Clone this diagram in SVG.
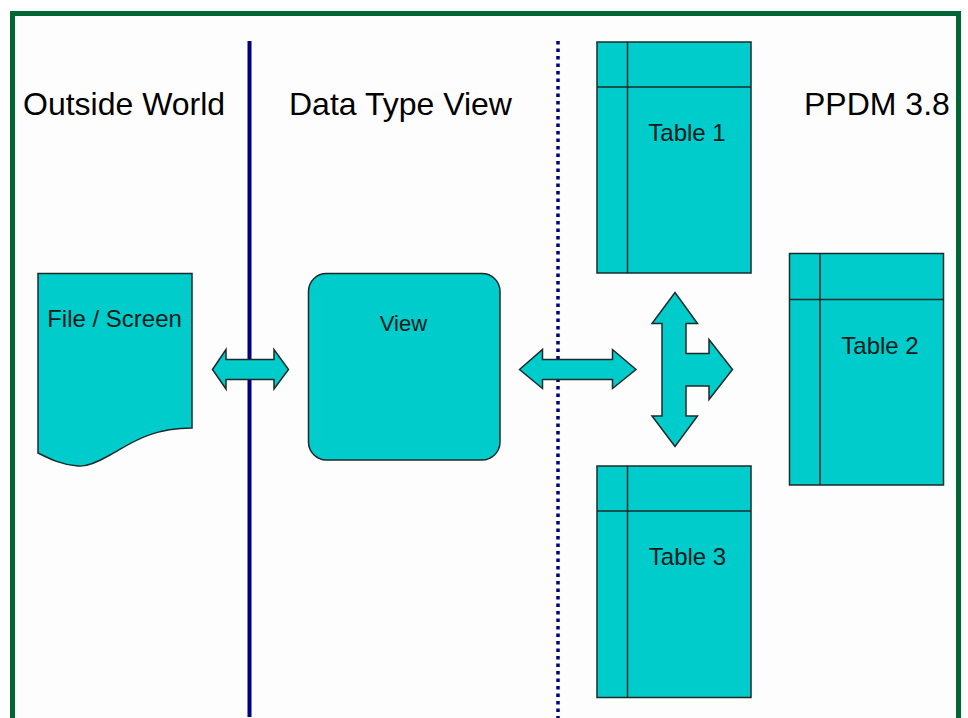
<svg xmlns="http://www.w3.org/2000/svg" width="968" height="718" viewBox="0 0 968 718">
  <style>
    .shape { fill: #00CCCC; stroke: #1c2a2a; stroke-width: 1.5; stroke-linejoin: miter; }
    .rule { fill: none; stroke: #1c2a2a; stroke-width: 1.5; }
    .head { font-family: "Liberation Sans", Arial, sans-serif; font-size: 32px; fill: #000; }
    .label { font-family: "Liberation Sans", Arial, sans-serif; font-size: 24px; fill: #0a1a1a; text-anchor: middle; }
  </style>

  <!-- page background and frame -->
  <rect x="0" y="0" width="968" height="718" fill="#ffffff"/>
  <rect x="12.5" y="13.5" width="946" height="720" fill="#fdfdfd" stroke="#006633" stroke-width="5"/>

  <!-- section headings -->
  <g id="headings">
    <text class="head" x="23" y="115">Outside World</text>
    <text class="head" x="289" y="115">Data Type View</text>
    <text class="head" x="804" y="115">PPDM 3.8</text>
  </g>

  <!-- boundary lines -->
  <g id="boundaries">
    <line x1="249.5" y1="41" x2="249.5" y2="717" stroke="#000080" stroke-width="4"/>
    <line x1="558" y1="41" x2="558" y2="718" stroke="#000080" stroke-width="3.5" stroke-dasharray="3.5 4"/>
  </g>

  <!-- File / Screen document -->
  <g id="file-screen">
    <path class="shape" d="M38,273.5 H192 V428 C150,428 130,444 110,455 C96,463 86,467 78,466 C62,465 50,459 38,453 Z"/>
    <text class="label" x="114.5" y="327">File / Screen</text>
  </g>

  <!-- View -->
  <g id="view">
    <rect class="shape" x="308.5" y="273.5" width="191.5" height="186.5" rx="18" ry="18"/>
    <text class="label" style="font-size:22px" x="403.5" y="331">View</text>
  </g>

  <!-- Tables -->
  <g id="table-1">
    <rect class="shape" x="597" y="42" width="154" height="231"/>
    <line class="rule" x1="597" y1="87" x2="751" y2="87"/>
    <line class="rule" x1="627.5" y1="42" x2="627.5" y2="273"/>
    <text class="label" x="687" y="141">Table 1</text>
  </g>

  <g id="table-2">
    <rect class="shape" x="789.5" y="253.5" width="154" height="231.5"/>
    <line class="rule" x1="789.5" y1="299.5" x2="943.5" y2="299.5"/>
    <line class="rule" x1="820" y1="253.5" x2="820" y2="485"/>
    <text class="label" x="880" y="353.5">Table 2</text>
  </g>

  <g id="table-3">
    <rect class="shape" x="597" y="466" width="154" height="231.5"/>
    <line class="rule" x1="597" y1="511" x2="751" y2="511"/>
    <line class="rule" x1="627.5" y1="466" x2="627.5" y2="697.5"/>
    <text class="label" x="687.5" y="565">Table 3</text>
  </g>

  <!-- connectors: block arrows -->
  <g id="connectors">
    <path class="shape" d="M212.5,369.5 L226,349.5 V359.5 H274 V349.5 L288.5,369.5 L274,389 V379.5 H226 V389 Z"/>
    <path class="shape" d="M519.5,369.5 L542.5,349.5 V359.5 H612.5 V349.5 L636,369.5 L612.5,388.5 V379.5 H542.5 V388.5 Z"/>
    <path class="shape" d="M675,292.5 L697.5,323.5 H686 V353.5 H709 V339.5 L732.5,369.5 L709,399.5 V386 H686 V416 H697.5 L675,446.5 L652,416 H662 V323.5 H652 Z"/>
  </g>
</svg>
